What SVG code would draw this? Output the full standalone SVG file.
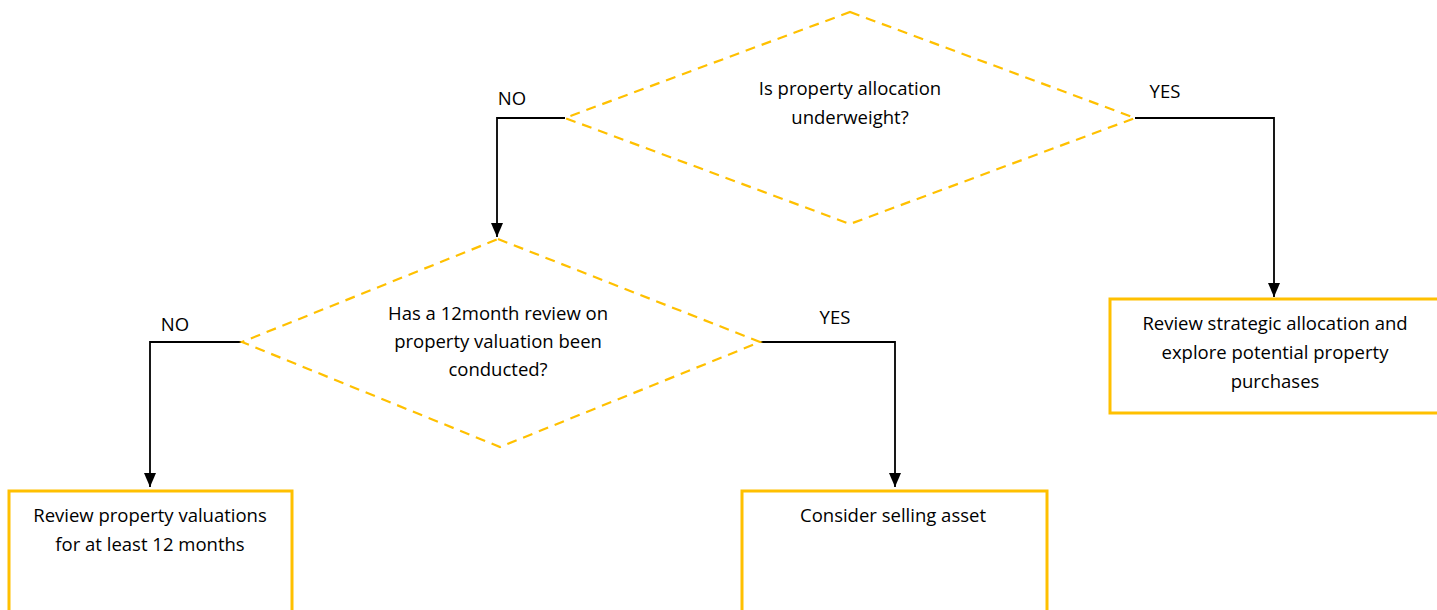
<svg xmlns="http://www.w3.org/2000/svg" width="1437" height="610" viewBox="0 0 1437 610">
<style>
.dia{fill:none;stroke:#FFC000;stroke-width:2.2;stroke-dasharray:10,7}
.box{fill:#fff;stroke:#FFC000;stroke-width:3}
.con{fill:none;stroke:#000;stroke-width:1.8}
text{font-family:"Open Sans","Liberation Sans",Arial,sans-serif;font-size:18.5px;fill:#000;text-anchor:middle}
</style>
<defs>
<marker id="ahb" viewBox="0 0 14 12" refX="14" refY="6" markerWidth="14" markerHeight="12" markerUnits="userSpaceOnUse" orient="auto">
<path d="M0,0 L14,6 L0,12 z" fill="#000"/>
</marker>
</defs>
<rect width="1437" height="610" fill="#fff"/>
<g id="connectors">
<polyline class="con" points="565,118 497,118 497,237" marker-end="url(#ahb)"/>
<polyline class="con" points="1135,118 1274,118 1274,297" marker-end="url(#ahb)"/>
<polyline class="con" points="242,342 150,342 150,487" marker-end="url(#ahb)"/>
<polyline class="con" points="760,342 895,342 895,487" marker-end="url(#ahb)"/>
<text x="512" y="105">NO</text>
<text x="1165" y="98">YES</text>
<text x="175" y="331">NO</text>
<text x="835" y="324">YES</text>
</g>
<g id="d1">
<polygon class="dia" points="850,12 1135,118 850,224 565,118"/>
<text x="850" y="95">Is property allocation</text>
<text x="850" y="124">underweight?</text>
</g>
<g id="d2">
<polygon class="dia" points="498,239 760,342 500,447 242,342"/>
<text x="498" y="320">Has a 12month review on</text>
<text x="498" y="348">property valuation been</text>
<text x="498" y="376">conducted?</text>
</g>
<g id="b3">
<rect class="box" x="1110" y="299" width="330" height="114"/>
<text x="1275" y="330">Review strategic allocation and</text>
<text x="1275" y="359">explore potential property</text>
<text x="1275" y="388">purchases</text>
</g>
<g id="b1">
<rect class="box" x="9" y="491" width="283" height="125"/>
<text x="150" y="522">Review property valuations</text>
<text x="150" y="551">for at least 12 months</text>
</g>
<g id="b2">
<rect class="box" x="742" y="491" width="305" height="125"/>
<text x="893" y="522">Consider selling asset</text>
</g>
</svg>
